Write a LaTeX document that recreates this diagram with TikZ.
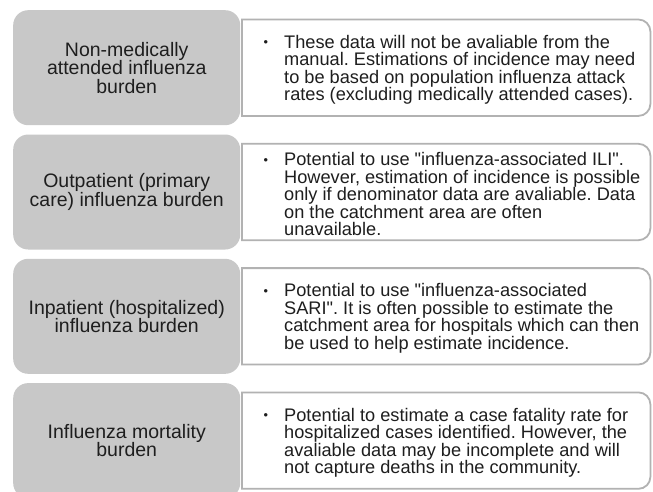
\documentclass[tikz,border=0pt]{standalone}
\usepackage{fontspec}
\setmainfont{Liberation Sans}[Ligatures=TeXOff]
\usepackage{graphicx}
\definecolor{headgrey}{HTML}{C8C8C8}
\definecolor{framegrey}{HTML}{B2B2B2}
\definecolor{inktext}{HTML}{1E1E1E}
\frenchspacing
\begin{document}
\begin{tikzpicture}[x=1pt,y=-1pt,
  headbox/.style={rectangle, rounded corners=15pt, fill=headgrey, draw=none,
    minimum width=227pt, minimum height=115pt, anchor=north west, inner sep=0pt,
    align=center, text=inktext, font=\fontsize{19.5}{18.5}\selectfont},
  notebox/.style={rectangle, fill=white, draw=none, minimum width=408pt,
    minimum height=96pt, anchor=north west, inner sep=0pt},
  notetext/.style={anchor=west, inner sep=0pt, align=left, text=inktext,
    font=\fontsize{18.2}{17.5}\selectfont},
  noteframe/.style={draw=framegrey, line width=1.8pt}
]
\useasboundingbox (0,0) rectangle (653,491);
\clip (0,0) rectangle (653,491);
\fill[white] (0,0) rectangle (653,491);

% frame with square left corners and rounded right corners
\newcommand{\noteoutline}[1]{%
  \draw[noteframe] (#1.north west) -- ([xshift=-12pt]#1.north east)
    arc[start angle=90, end angle=0, radius=12pt]
    -- ([yshift=12pt]#1.south east)
    arc[start angle=0, end angle=-90, radius=12pt]
    -- (#1.south west) -- cycle;}
\newcommand{\bul}{\llap{\raisebox{1.5pt}{\scalebox{0.7}{\textbullet}}\hspace{16pt}}}

% row 1
\node[notebox] (w1) at (242,19.5) {};
\noteoutline{w1}
\node[headbox] (g1) at (13,10) {Non-medically\\attended influenza\\burden};
\node[notetext] (t1) at ([xshift=42pt,yshift=-2pt]w1.west)
  {\bul These data will not be avaliable from the\\
   manual. Estimations of incidence may need\\
   to be based on population influenza attack\\
   rates (excluding medically attended cases).};

% row 2
\node[notebox] (w2) at (242,143.8) {};
\noteoutline{w2}
\node[headbox] (g2) at (13,134.3) {Outpatient (primary\\care) influenza burden};
\node[notetext] (t2) at ([xshift=42pt,yshift=-2pt]w2.west)
  {\bul Potential to use "influenza-associated ILI".\\
   However, estimation of incidence is possible\\
   only if denominator data are avaliable. Data\\
   on the catchment area are often\\
   unavailable.};

% row 3
\node[notebox] (w3) at (242,268.1) {};
\noteoutline{w3}
\node[headbox] (g3) at (13,258.6) {Inpatient (hospitalized)\\influenza burden};
\node[notetext] (t3) at ([xshift=42pt,yshift=-2pt]w3.west)
  {\bul Potential to use "influenza-associated\\
   SARI". It is often possible to estimate the\\
   catchment area for hospitals which can then\\
   be used to help estimate incidence.};

% row 4
\node[notebox] (w4) at (242,392.4) {};
\noteoutline{w4}
\node[headbox] (g4) at (13,382.9) {Influenza mortality\\burden};
\node[notetext] (t4) at ([xshift=42pt,yshift=-2pt]w4.west)
  {\bul Potential to estimate a case fatality rate for\\
   hospitalized cases identified. However, the\\
   avaliable data may be incomplete and will\\
   not capture deaths in the community.};
\end{tikzpicture}
\end{document}
